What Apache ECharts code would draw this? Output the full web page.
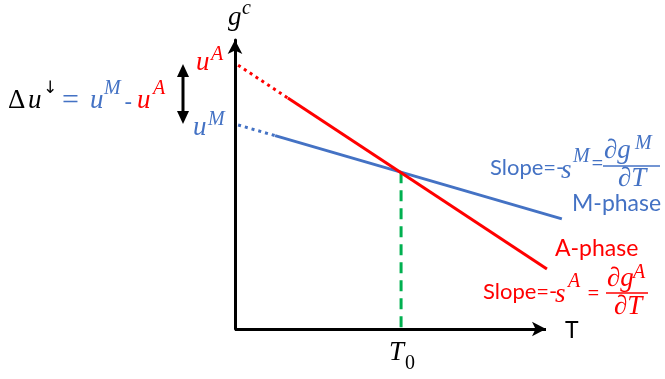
<!DOCTYPE html>
<html>
<head>
<meta charset="utf-8">
<script src="https://cdn.jsdelivr.net/npm/echarts@6/dist/echarts.min.js"></script>
<style>
  html, body { margin: 0; padding: 0; background: #ffffff; }
  #chart { width: 665px; height: 379px; }
</style>
</head>
<body>
<div id="chart"></div>
<script>
// Free energy g^c against temperature T for the A and M phases
const tRange = [0, 110];
const gRange = [0, 100];
const tAxisEnd = 100;   // where the drawn T axis arrow stops

// extrapolated (dotted) and measured (solid) parts of each phase line
const aPhaseExtrapolated = [[1, 91.3], [17, 79.9]];
const aPhaseLine = [[17, 79.9], [100.3, 20.8]];
const mPhaseExtrapolated = [[1, 70.6], [12.9, 66.9]];
const mPhaseLine = [[12.9, 66.9], [105.1, 38.1]];

// equilibrium temperature where the two lines cross
const T0 = 53.4;
const gAtT0 = 54.2;
const t0Marker = [[T0, gAtT0], [T0, 0]];

const RED = '#ff0000';
const BLUE = '#4472c4';
const GREEN = '#00b050';
const BLACK = '#000000';

const SANS = "23px Lato";
const SANS_SLOPE = "22px Lato";
const MATH = "italic 27px 'Liberation Serif'";
const MATH_SUP = "italic 20px 'Liberation Serif'";

function txt(text, x, y, font, fill, align) {
  return {
    type: 'text', x: x, y: y, silent: true, z: 10,
    style: { text: text, font: font, fill: fill, textAlign: align || 'left', textVerticalAlign: 'middle' }
  };
}
function hline(x1, x2, y, color) {
  return { type: 'line', silent: true, z: 10,
    shape: { x1: x1, y1: y, x2: x2, y2: y },
    style: { stroke: color, lineWidth: 1.5 } };
}

const chart = echarts.init(document.getElementById('chart'), null, { renderer: 'canvas' });

const lineSeries = (data, color, type, width) => ({
  type: 'line', data: data, symbol: 'none', clip: false, silent: true,
  lineStyle: { color: color, width: width || 3, type: type || 'solid' },
  animation: false
});

// horizontal T axis with its arrow, drawn as a mark line on the baseline
const tAxisSeries = {
  type: 'line', data: [], symbol: 'none', silent: true,
  markLine: {
    silent: true, animation: false,
    symbol: ['none', 'arrow'], symbolSize: [11, 14],
    label: { show: false },
    lineStyle: { color: BLACK, width: 3, type: 'solid' },
    emphasis: { disabled: true },
    data: [[{ coord: [0, 0] }, { coord: [tAxisEnd, 0] }]]
  }
};

chart.setOption({
  animation: false,
  backgroundColor: '#ffffff',
  grid: { left: 235, top: 40, right: 87.9, bottom: 50 },
  xAxis: {
    type: 'value', min: tRange[0], max: tRange[1],
    axisLine: { show: false },
    axisTick: { show: false }, axisLabel: { show: false }, splitLine: { show: false }
  },
  yAxis: {
    type: 'value', min: gRange[0], max: gRange[1],
    axisLine: { show: true, onZero: false, symbol: ['none', 'arrow'], symbolSize: [11, 14],
      lineStyle: { color: BLACK, width: 3 } },
    axisTick: { show: false }, axisLabel: { show: false }, splitLine: { show: false }
  },
  series: [
    tAxisSeries,
    lineSeries(t0Marker, GREEN, [11, 7], 3),
    lineSeries(mPhaseExtrapolated, BLUE, [3, 4], 3),
    lineSeries(mPhaseLine, BLUE, 'solid', 3),
    lineSeries(aPhaseExtrapolated, RED, [3, 4], 3),
    lineSeries(aPhaseLine, RED, 'solid', 3)
  ],
  graphic: [
    // axis names
    txt('g', 228, 18, MATH, BLACK),
    txt('c', 242, 9, MATH_SUP, BLACK),
    txt('T', 565, 331, SANS, BLACK),
    txt('T', 389, 353, MATH, BLACK),
    txt('0', 405, 364, "20px 'Liberation Serif'", BLACK),

    // intercepts
    txt('u', 196, 63, MATH, RED),
    txt('A', 211, 55, MATH_SUP, RED),
    txt('u', 193, 128, MATH, BLUE),
    txt('M', 208, 120, MATH_SUP, BLUE),

    // double arrow between the intercepts
    { type: 'line', silent: true, z: 10, shape: { x1: 183, y1: 74, x2: 183, y2: 114 },
      style: { stroke: BLACK, lineWidth: 3 } },
    { type: 'polygon', silent: true, z: 10, shape: { points: [[183, 64], [177, 77], [189, 77]] },
      style: { fill: BLACK } },
    { type: 'polygon', silent: true, z: 10, shape: { points: [[183, 124], [177, 111], [189, 111]] },
      style: { fill: BLACK } },

    // Δu↓ = u^M - u^A
    txt('Δ', 8, 101, "27px 'Liberation Serif'", BLACK),
    txt('u', 28, 101, MATH, BLACK),
    txt('↓', 43, 89, "17px 'DejaVu Sans'", BLACK),
    txt('=', 62, 101, "30px 'Liberation Serif'", BLUE),
    txt('u', 90, 101, MATH, BLUE),
    txt('M', 104, 89, MATH_SUP, BLUE),
    txt('-', 124, 103, SANS, BLUE),
    txt('u', 137, 101, MATH, RED),
    txt('A', 153, 89, MATH_SUP, RED),

    // M-phase slope
    txt('Slope=-', 490, 168, SANS_SLOPE, BLUE),
    txt('s', 561, 171, MATH, BLUE),
    txt('M', 573, 157, MATH_SUP, BLUE),
    txt('=', 591, 163, SANS_SLOPE, BLUE),
    txt('∂g', 604, 151, MATH, BLUE),
    txt('M', 635, 144, MATH_SUP, BLUE),
    hline(603, 660, 166, BLUE),
    txt('∂T', 618, 179, MATH, BLUE),
    txt('M-phase', 572, 204, SANS, BLUE),

    // A-phase slope
    txt('A-phase', 555, 249, SANS, RED),
    txt('Slope=-', 483, 292, SANS_SLOPE, RED),
    txt('s', 555, 295, MATH, RED),
    txt('A', 568, 282, MATH_SUP, RED),
    txt('=', 587, 293, SANS_SLOPE, RED),
    txt('∂g', 607, 279, MATH, RED),
    txt('A', 633, 273, MATH_SUP, RED),
    hline(606, 648, 293, RED),
    txt('∂T', 614, 307, MATH, RED)
  ]
});
</script>
</body>
</html>
